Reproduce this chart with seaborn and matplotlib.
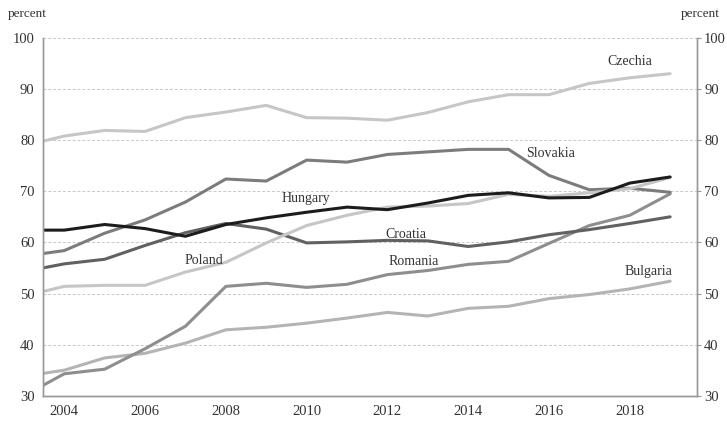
import pandas as pd
import seaborn as sns
import matplotlib.pyplot as plt

plt.switch_backend("Agg")

# Data (percent)
years = list(range(2003, 2020))
czechia = [78.9, 80.8, 81.9, 81.7, 84.4, 85.5, 86.8, 84.4, 84.3, 83.9, 85.4, 87.5, 88.9, 88.9, 91.1, 92.2, 93.0]
slovakia = [57.3, 58.4, 61.8, 64.4, 67.9, 72.4, 72.0, 76.1, 75.7, 77.2, 77.7, 78.2, 78.2, 73.1, 70.3, 70.6, 69.8]
hungary = [62.4, 62.4, 63.5, 62.7, 61.2, 63.5, 64.8, 65.9, 66.9, 66.4, 67.7, 69.2, 69.7, 68.7, 68.8, 71.6, 72.8]
poland = [49.5, 51.4, 51.6, 51.6, 54.2, 56.1, 59.9, 63.3, 65.3, 66.9, 67.1, 67.6, 69.4, 69.0, 69.7, 70.5, 72.7]
croatia = [54.3, 55.8, 56.7, 59.4, 61.9, 63.7, 62.6, 59.9, 60.1, 60.4, 60.3, 59.2, 60.1, 61.5, 62.5, 63.7, 65.0]
romania = [30.0, 34.3, 35.2, 39.2, 43.6, 51.4, 52.0, 51.2, 51.8, 53.7, 54.5, 55.7, 56.3, 59.8, 63.3, 65.3, 69.5]
bulgaria = [33.8, 35.0, 37.4, 38.3, 40.3, 42.9, 43.4, 44.2, 45.2, 46.3, 45.6, 47.1, 47.5, 49.0, 49.8, 50.9, 52.4]

yticks = [30, 40, 50, 60, 70, 80, 90, 100]
xticks = [2004, 2006, 2008, 2010, 2012, 2014, 2016, 2018]

series = {
    "Bulgaria": bulgaria, "Romania": romania, "Croatia": croatia, "Slovakia": slovakia,
    "Czechia": czechia, "Poland": poland, "Hungary": hungary,
}
palette = {
    "Czechia": "#c6c6c6", "Poland": "#c6c6c6", "Bulgaria": "#b4b4b4", "Romania": "#8e8e8e",
    "Slovakia": "#7c7c7c", "Croatia": "#616161", "Hungary": "#1c1c1c",
}
# label positions (data coords)
labels = {
    "Czechia": (2018.0, 95.3), "Slovakia": (2016.05, 77.35), "Hungary": (2009.98, 68.6),
    "Croatia": (2012.45, 61.5), "Poland": (2007.45, 56.4), "Romania": (2012.66, 56.3),
    "Bulgaria": (2018.47, 54.3),
}

df = pd.DataFrame([(c, y, v) for c, vals in series.items() for y, v in zip(years, vals)],
                  columns=["country", "year", "value"])

sns.set_style("white")
plt.rcParams["font.family"] = ["Liberation Serif", "DejaVu Serif"]

fig = plt.figure(figsize=(7.27, 4.26), dpi=100)
ax = fig.add_axes([0.059, 0.071, 0.9, 0.84])

for y in yticks[1:]:
    ax.axhline(y, color="#c8c8c8", lw=0.7, ls=(0, (3, 2)), zorder=0)

sns.lineplot(data=df, x="year", y="value", hue="country", palette=palette,
             hue_order=list(series), linewidth=2.2, legend=False, ax=ax)

for name, (lx, ly) in labels.items():
    ax.text(lx, ly, name, ha="center", va="center", fontsize=10, color="#333333")

ax.set_xlim(2003.47, 2019.67)
ax.set_ylim(30, 100)
ax.set_xticks(xticks)
ax.set_yticks(yticks)
ax.set_xlabel("")
ax.set_ylabel("")
ax.tick_params(axis="both", length=0, labelsize=10.5, colors="#333333", pad=6)
ax.tick_params(axis="x", pad=7)

ax2 = ax.twinx()
ax2.set_ylim(30, 100)
ax2.set_yticks(yticks)
ax2.tick_params(axis="y", length=3, labelsize=10.5, colors="#333333", pad=2)
ax2.tick_params(axis="y", color="#999999")

for a in (ax, ax2):
    a.spines["top"].set_visible(False)
    for s in ("left", "right", "bottom"):
        a.spines[s].set_color("#999999")
        a.spines[s].set_linewidth(1.0)

fig.text(0.011, 0.968, "percent", fontsize=9.5, color="#333333", ha="left", va="center")
fig.text(0.99, 0.968, "percent", fontsize=9.5, color="#333333", ha="right", va="center")

fig.savefig("out.png", dpi=100)
